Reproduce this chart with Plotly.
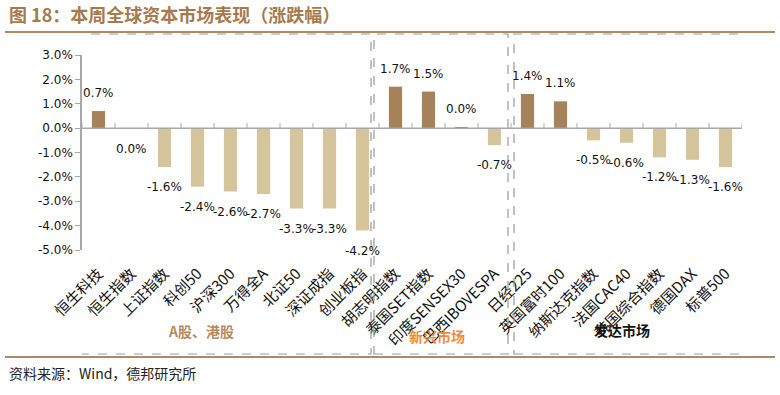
import plotly.graph_objects as go

categories = ["恒生科技", "恒生指数", "上证指数", "科创50", "沪深300", "万得全A", "北证50",
              "深证成指", "创业板指", "胡志明指数", "泰国SET指数", "印度SENSEX30", "巴西IBOVESPA",
              "日经225", "英国富时100", "纳斯达克指数", "法国CAC40", "韩国综合指数", "德国DAX", "标普500"]
values = [0.7, -0.02, -1.6, -2.4, -2.6, -2.7, -3.3, -3.3, -4.2,
          1.7, 1.5, 0.03, -0.7,
          1.4, 1.1, -0.5, -0.6, -1.2, -1.3, -1.6]
y_tickvals = [3, 2, 1, 0, -1, -2, -3, -4, -5]
y_ticktext = ["3.0%", "2.0%", "1.0%", "0.0%", "-1.0%", "-2.0%", "-3.0%", "-4.0%", "-5.0%"]
groups = ["A股、港股", "新兴市场", "发达市场"]

POS = "#A6825A"
NEG = "#D5C59D"
W, H = 780, 395
L, R, T, B = 82, 38, 55, 145
PW, PH = W - L - R, H - T - B
N = len(categories)

def px_x(px):
    return (px - L) / PW

def px_y(py):
    return (H - B - py) / PH

def cat_x(px):
    return (px - L) / PW * N - 0.5

colors = [POS if v >= 0 else NEG for v in values]

fig = go.Figure()
fig.add_trace(go.Bar(x=list(range(N)), y=values, marker=dict(color=colors, line=dict(width=0)),
                     width=0.4, hoverinfo="skip"))

annotations = []
for i, v in enumerate(values):
    txt = f"{abs(v):.1f}%" if round(v, 1) == 0 else f"{v:.1f}%"
    annotations.append(dict(x=i, y=v, text=txt, showarrow=False, xref="x", yref="y",
                            yshift=18 if v >= 0 else -20,
                            font=dict(size=12, color="#111111", family="DejaVu Sans")))

# title and source
annotations.append(dict(x=px_x(7), y=px_y(14), xref="paper", yref="paper", xanchor="left",
                        yanchor="middle", showarrow=False,
                        text="<b>图 18：本周全球资本市场表现（涨跌幅）</b>",
                        font=dict(size=18, color="#A57A4D", family="Noto Sans CJK SC")))
annotations.append(dict(x=px_x(7), y=px_y(373), xref="paper", yref="paper", xanchor="left",
                        yanchor="middle", showarrow=False,
                        text="资料来源：Wind，德邦研究所",
                        font=dict(size=14, color="#222222", family="Noto Sans CJK SC")))
# group labels
group_pos = [(201, 331, "#B8895A"), (437, 336, "#EE8A3C"), (622, 330, "#111111")]
for g, (gx, gy, gc) in zip(groups, group_pos):
    annotations.append(dict(x=cat_x(gx), y=px_y(gy), xref="x", yref="paper", showarrow=False,
                            xanchor="center", yanchor="middle",
                            text=f"<b>{g}</b>", font=dict(size=14, color=gc, family="Noto Sans CJK SC")))

shapes = []
# brown rules
for ry in (32, 357):
    shapes.append(dict(type="line", xref="paper", yref="paper", x0=px_x(5), x1=px_x(775),
                       y0=px_y(ry), y1=px_y(ry), line=dict(color="#B08A66", width=2)))
# dashed group boxes
for bx0, bx1 in [(80, 371), (374, 508), (514, 745)]:
    shapes.append(dict(type="rect", xref="x", yref="paper", x0=cat_x(bx0), x1=cat_x(bx1),
                       y0=px_y(354), y1=px_y(34), line=dict(color="#999999", width=1.2, dash="dash")))
# zero axis line with tick marks at category boundaries
shapes.append(dict(type="line", xref="x", yref="y", x0=-0.5, x1=N - 0.5, y0=0, y1=0,
                   line=dict(color="#A8A8A8", width=1.5)))
for k in range(N + 1):
    shapes.append(dict(type="line", xref="x", yref="paper", x0=k - 0.5, x1=k - 0.5,
                       y0=px_y(128), y1=px_y(123), line=dict(color="#A8A8A8", width=1)))

fig.update_layout(
    width=W, height=H, margin=dict(l=L, r=R, t=T, b=B),
    plot_bgcolor="white", paper_bgcolor="white", showlegend=False,
    annotations=annotations, shapes=shapes,
    font=dict(family="Noto Sans CJK SC", color="#111111"),
    xaxis=dict(tickmode="array", tickvals=list(range(N)), ticktext=categories, tickangle=-45,
               range=[-0.5, N - 0.5], showline=False, showgrid=False, zeroline=False, ticks="",
               ticklabelstandoff=11, tickfont=dict(size=15, color="#111111", family="Noto Sans CJK SC")),
    yaxis=dict(range=[-5, 3], tickmode="array", tickvals=y_tickvals, ticktext=y_ticktext,
               showline=True, linecolor="#A8A8A8", linewidth=1.5, ticks="outside", ticklen=5,
               tickcolor="#A8A8A8", showgrid=False, zeroline=False,
               tickfont=dict(size=12, color="#111111", family="DejaVu Sans")),
)

fig.write_html("out.html", config={"displayModeBar": False},
               post_script="document.body.style.margin='0px';")
